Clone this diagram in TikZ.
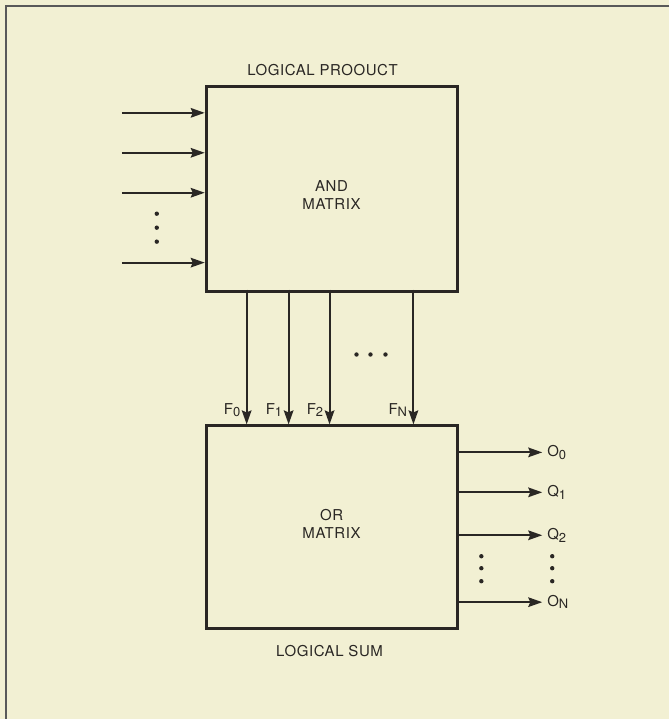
\documentclass[tikz,border=0pt]{standalone}
\usepackage{fontspec}
\setmainfont{TeX Gyre Heros}[LetterSpace=4]
\usepackage{xcolor}
\usetikzlibrary{arrows.meta}
\definecolor{paper}{HTML}{F2F0D3}
\definecolor{ink}{HTML}{2A2724}
\newcommand{\lowidx}[1]{\raisebox{-1.2pt}{\fontsize{6.5}{7}\selectfont #1}}

\begin{document}
\begin{tikzpicture}[x=0.5pt, y=-0.5pt, >={Stealth[length=7pt,width=4.8pt,inset=1pt]},
    font=\fontsize{7.5}{9}\selectfont, color=ink,
    matrixbox/.style={draw, line width=1.5pt, minimum width=126pt, anchor=north west},
    wire/.style={->, line width=1pt},
    dot/.style={fill=ink}]
    % background and frame
    \fill[paper] (0,0) rectangle (670,720);
    \draw[gray!70!black, line width=1pt] (670,6) -- (6,6) -- (6,720);
    % the two matrices
    \node[matrixbox, minimum height=102.5pt] (andm) at (205,85) {};
    \node[matrixbox, minimum height=101.5pt] (orm) at (205,425) {};
    \node[align=center] (andtxt) at (332,195) {AND\\MATRIX};
    \node[align=center] (ortxt) at (332,525) {OR\\MATRIX};
    \node (prod) at (323,70) {LOGICAL PROOUCT};
    \node (sum) at (330,652) {LOGICAL SUM};
    % inputs
    \foreach \y [count=\i] in {113,153,193,263} {
        \coordinate (in\i) at (122,\y);
        \draw[wire] (in\i) -- (in\i -| andm.west);
    }
    \foreach \y in {214,228,242} \fill[dot] (157,\y) circle (2.2);
    % product terms
    \foreach \x/\n in {247/0,289/1,330/2,414/N} {
        \coordinate (f\n) at (\x,290);
        \draw[wire] (f\n) -- (f\n |- orm.north);
        \node[anchor=base east, inner sep=0pt] (lf\n) at (\x-6,415) {F\lowidx{\n}};
    }
    \foreach \x in {357,371,386} \fill[dot] (\x,355) circle (2.2);
    % outputs
    \foreach \y/\l [count=\i] in {453/O\lowidx{0},493/Q\lowidx{1},536/Q\lowidx{2},603/O\lowidx{N}} {
        \coordinate (out\i) at (543,\y);
        \draw[wire] (out\i -| orm.east) -- (out\i) node[right, inner sep=2pt] (lo\i) {\l};
    }
    \foreach \y in {557,569,582} {
        \fill[dot] (482,\y) circle (2.2);
        \fill[dot] (553,\y) circle (2.2);
    }
\end{tikzpicture}
\end{document}
